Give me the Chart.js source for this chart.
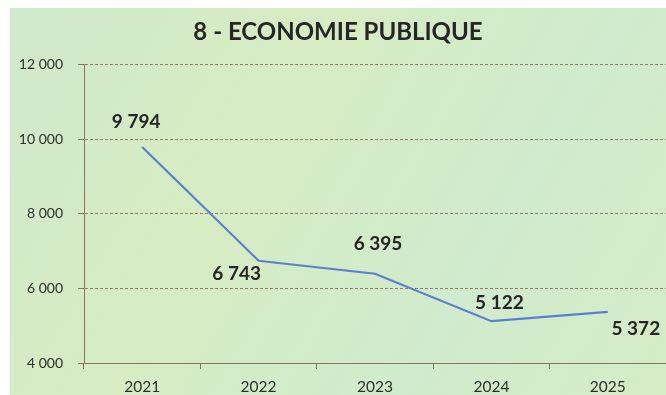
<!DOCTYPE html>
<html>
<head>
<meta charset="utf-8">
<script src="https://cdn.jsdelivr.net/npm/chart.js@4/dist/chart.umd.min.js"></script>
<style>
  html, body { margin: 0; padding: 0; background: #ffffff; }
  #wrap { width: 666px; height: 395px; }
</style>
</head>
<body>
<div id="wrap"><canvas id="c" width="666" height="395"></canvas></div>
<script>
const chartTitle = "8 - ECONOMIE PUBLIQUE";
const categories = ["2021", "2022", "2023", "2024", "2025"];
const values = [9794, 6743, 6395, 5122, 5372];
const yTicks = [4000, 6000, 8000, 10000, 12000];

function fmt(v) {
  return String(Math.round(v)).replace(/\B(?=(\d{3})+(?!\d))/g, " ");
}

const panelBg = {
  id: 'panelBg',
  beforeDraw(chart) {
    const ctx = chart.ctx;
    ctx.save();
    const g = ctx.createLinearGradient(10, 8, 666, 395);
    g.addColorStop(0, '#d0e9cc');
    g.addColorStop(0.35, '#d6ecc2');
    g.addColorStop(0.7, '#d0ebcd');
    g.addColorStop(1, '#d5ecc5');
    ctx.fillStyle = g;
    ctx.fillRect(10, 8, 656, 387);
    ctx.restore();
  }
};

const valueLabels = {
  id: 'valueLabels',
  afterDatasetsDraw(chart, args, opts) {
    const ctx = chart.ctx;
    const meta = chart.getDatasetMeta(0);
    ctx.save();
    ctx.font = 'bold 19px Lato, "Open Sans", sans-serif';
    ctx.fillStyle = '#262626';
    ctx.textAlign = 'center';
    ctx.textBaseline = 'middle';
    meta.data.forEach((pt, i) => {
      const off = opts.offsets[i] || [0, -20];
      ctx.fillText(fmt(chart.data.datasets[0].data[i]), pt.x + off[0], pt.y + off[1]);
    });
    ctx.restore();
  }
};

new Chart(document.getElementById('c'), {
  type: 'line',
  data: {
    labels: categories,
    datasets: [{
      data: values,
      borderColor: '#5b80cf',
      borderWidth: 2.2,
      pointRadius: 0,
      tension: 0,
      fill: false
    }]
  },
  options: {
    responsive: false,
    animation: false,
    layout: { padding: { left: 10, right: 0, top: 0, bottom: 0 } },
    plugins: {
      legend: { display: false },
      tooltip: { enabled: false },
      title: {
        display: true,
        text: chartTitle,
        color: '#262626',
        font: { family: 'Lato, "Open Sans", sans-serif', size: 24, weight: 'bold', lineHeight: 1.2 },
        padding: { top: 18, bottom: 18 }
      },
      valueLabels: {
        offsets: [[-6, -25], [-22, 13], [3, -30], [8, -18], [28, 17]]
      }
    },
    scales: {
      x: {
        offset: true,
        grid: {
          offset: true,
          drawOnChartArea: false,
          drawTicks: true,
          tickLength: 6,
          color: '#85795c'
        },
        border: { display: true, color: '#85795c', dash: [3, 2], width: 1 },
        ticks: {
          color: '#2e2e2e',
          padding: 9,
          font: { family: 'Lato, "Open Sans", sans-serif', size: 15.5 }
        },
        afterFit(s) { s.height = 32; }
      },
      y: {
        min: 4000,
        max: 12000,
        afterBuildTicks(s) { s.ticks = yTicks.map(v => ({ value: v })); },
        grid: {
          color: 'rgba(130,112,78,0.85)',
          drawTicks: true,
          tickLength: 6,
          tickColor: '#85795c'
        },
        border: { display: true, color: '#85795c', dash: [3, 2], width: 1 },
        ticks: {
          color: '#2e2e2e',
          padding: 15,
          font: { family: 'Lato, "Open Sans", sans-serif', size: 14 },
          callback: (v) => fmt(v)
        },
        afterFit(s) { s.width = 74; }
      }
    }
  },
  plugins: [panelBg, valueLabels]
});
</script>
</body>
</html>
